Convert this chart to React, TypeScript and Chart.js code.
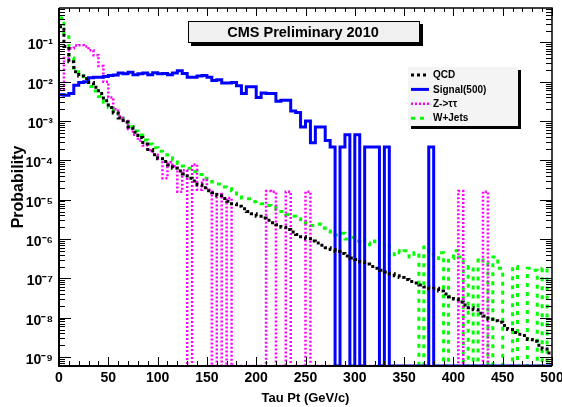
import React, { useEffect, useRef } from 'react';
import { Chart, registerables } from 'chart.js';

Chart.register(...registerables);

// ---- data: probability per 5 GeV bin of tau Pt (0..500 GeV, 100 bins); 0 = empty bin ----
const BIN_WIDTH = 5;
const X_MIN = 0;
const X_MAX = 500;
const Y_MIN = 5.9e-10;
const Y_MAX = 0.75;

const xTickValues = [0, 50, 100, 150, 200, 250, 300, 350, 400, 450, 500];
const yTickValues = [1e-9, 1e-8, 1e-7, 1e-6, 1e-5, 1e-4, 1e-3, 1e-2, 1e-1];

const seriesLabels = ['QCD', 'Signal(500)', 'Z->\u03c4\u03c4', 'W+Jets'];

const qcd = [
  2.5e-1, 7.9e-2, 3.2e-2, 1.8e-2, 1.4e-2, 1.2e-2, 9.5e-3, 7.2e-3, 5.0e-3, 3.3e-3,
  2.2e-3, 1.6e-3, 1.2e-3, 9.5e-4, 7.1e-4, 5.2e-4, 3.8e-4, 2.6e-4, 1.9e-4, 1.4e-4,
  1.1e-4, 9.3e-5, 7.6e-5, 6.3e-5, 5.4e-5, 4.5e-5, 3.5e-5, 3.0e-5, 2.4e-5, 2.0e-5,
  1.7e-5, 1.5e-5, 1.26e-5, 1.07e-5, 9.1e-6, 7.9e-6, 6.8e-6, 5.9e-6, 5.0e-6, 4.4e-6,
  3.8e-6, 3.4e-6, 3.0e-6, 2.6e-6, 2.3e-6, 2.0e-6, 1.74e-6, 1.5e-6, 1.3e-6, 1.15e-6,
  1.02e-6, 8.9e-7, 7.9e-7, 6.9e-7, 6.0e-7, 5.4e-7, 4.8e-7, 4.3e-7, 3.7e-7, 3.3e-7,
  3.0e-7, 2.6e-7, 2.3e-7, 2.0e-7, 1.8e-7, 1.6e-7, 1.45e-7, 1.3e-7, 1.17e-7, 1.05e-7,
  9.3e-8, 8.3e-8, 7.6e-8, 6.8e-8, 6.0e-8, 5.4e-8, 5.6e-8, 4.8e-8, 4.0e-8, 3.4e-8,
  3.0e-8, 2.5e-8, 2.1e-8, 1.8e-8, 1.6e-8, 1.3e-8, 1.1e-8, 9.1e-9, 8.3e-9, 7.6e-9,
  6.3e-9, 5.0e-9, 4.2e-9, 3.8e-9, 3.5e-9, 2.8e-9, 2.5e-9, 2.0e-9, 1.6e-9, 1.26e-9,
];

const signal500 = [
  4.7e-3, 4.5e-3, 5.0e-3, 8.1e-3, 9.5e-3, 1.0e-2, 1.26e-2, 1.3e-2, 1.3e-2, 1.35e-2,
  1.45e-2, 1.48e-2, 1.66e-2, 1.6e-2, 1.74e-2, 1.5e-2, 1.6e-2, 1.66e-2, 1.5e-2, 1.7e-2,
  1.6e-2, 1.62e-2, 1.5e-2, 1.66e-2, 1.9e-2, 1.62e-2, 1.3e-2, 1.3e-2, 1.4e-2, 1.45e-2,
  1.3e-2, 1.07e-2, 1.12e-2, 9.3e-3, 9.3e-3, 9.5e-3, 7.9e-3, 5.0e-3, 7.4e-3, 7.4e-3,
  4.0e-3, 5.2e-3, 5.0e-3, 5.0e-3, 3.2e-3, 3.4e-3, 3.4e-3, 1.8e-3, 1.66e-3, 7.1e-4,
  1.0e-3, 2.8e-4, 7.1e-4, 7.1e-4, 3.2e-4, 2.2e-4, 0, 2.2e-4, 4.5e-4, 0,
  4.5e-4, 0, 2.2e-4, 2.2e-4, 2.2e-4, 0, 2.2e-4, 0, 0, 0,
  0, 0, 0, 0, 0, 2.2e-4, 0, 0, 0, 0,
  0, 0, 0, 0, 0, 0, 0, 0, 0, 0,
  0, 0, 0, 0, 0, 0, 0, 0, 0, 0,
];

const zTauTau = [
  6.3e-3, 4.0e-2, 7.1e-2, 8.3e-2, 8.5e-2, 7.9e-2, 6.3e-2, 4.7e-2, 2.5e-2, 1.0e-2,
  4.0e-3, 2.0e-3, 1.3e-3, 1.0e-3, 6.3e-4, 4.5e-4, 3.2e-4, 2.4e-4, 1.8e-4, 1.4e-4,
  1.1e-4, 3.5e-5, 8.9e-5, 7.1e-5, 1.6e-5, 5.6e-5, 0, 7.9e-5, 1.8e-5, 3.2e-5,
  1.8e-5, 0, 1.4e-5, 0, 1.1e-5, 0, 0, 0, 0, 0,
  0, 0, 1.66e-5, 1.6e-5, 0, 0, 1.6e-5, 0, 0, 0,
  1.6e-5, 0, 0, 0, 0, 0, 0, 0, 0, 0,
  0, 0, 0, 0, 0, 0, 0, 0, 0, 0,
  0, 0, 0, 0, 0, 0, 0, 0, 0, 0,
  0, 1.66e-5, 0, 0, 0, 0, 1.6e-5, 0, 0, 0,
  0, 0, 0, 0, 0, 0, 0, 0, 0, 0,
];

const wJets = [
  4.2e-1, 1.4e-1, 4.0e-2, 2.2e-2, 1.4e-2, 1.0e-2, 7.6e-3, 5.8e-3, 4.2e-3, 3.0e-3,
  2.2e-3, 1.6e-3, 1.2e-3, 9.3e-4, 7.2e-4, 5.6e-4, 4.4e-4, 3.3e-4, 2.6e-4, 2.1e-4,
  1.7e-4, 1.4e-4, 1.17e-4, 1.0e-4, 8.3e-5, 7.2e-5, 6.3e-5, 5.2e-5, 4.4e-5, 3.5e-5,
  3.2e-5, 2.8e-5, 2.5e-5, 2.1e-5, 1.9e-5, 1.7e-5, 1.4e-5, 1.1e-5, 1.05e-5, 8.9e-6,
  8.9e-6, 7.9e-6, 7.1e-6, 6.3e-6, 5.6e-6, 5.0e-6, 4.2e-6, 3.8e-6, 3.3e-6, 2.8e-6,
  2.5e-6, 2.2e-6, 2.4e-6, 1.9e-6, 1.6e-6, 1.5e-6, 1.26e-6, 1.4e-6, 1.0e-6, 1.1e-6,
  8.9e-7, 1.0e-6, 7.9e-7, 7.1e-7, 8.9e-7, 6.3e-7, 7.6e-7, 3.5e-7, 5.0e-7, 4.5e-7,
  5.0e-7, 3.5e-7, 4.5e-7, 0, 6.3e-7, 4.0e-7, 3.2e-7, 4.5e-7, 0, 3.2e-7,
  5.0e-7, 3.5e-7, 0, 2.0e-7, 0, 3.2e-7, 2.5e-7, 0, 3.5e-7, 1.8e-7,
  0, 0, 2.0e-7, 0, 0, 1.8e-7, 1.6e-7, 0, 1.8e-7, 0,
];

// ---- styling ----
const FONT = "'Liberation Sans', Arial, Helvetica, sans-serif";
const SUP: Record<string, string> = {
  '-': '\u207b', '0': '\u2070', '1': '\u00b9', '2': '\u00b2', '3': '\u00b3', '4': '\u2074',
  '5': '\u2075', '6': '\u2076', '7': '\u2077', '8': '\u2078', '9': '\u2079',
};
const toSup = (s: string) => s.split('').map((c) => SUP[c] || c).join('');

function histPoints(vals: number[]) {
  const pts = vals.map((v, i) => ({ x: X_MIN + i * BIN_WIDTH, y: v > 0 ? v : Y_MIN }));
  const last = vals[vals.length - 1];
  pts.push({ x: X_MIN + vals.length * BIN_WIDTH, y: last > 0 ? last : Y_MIN });
  return pts;
}

const frameTicksPlugin = {
  id: 'frameTicks',
  afterDatasetsDraw(chart: any) {
    const { ctx, chartArea: a, scales } = chart;
    const xs = scales.x;
    const ys = scales.y;
    ctx.save();
    ctx.strokeStyle = '#000';
    ctx.lineWidth = 1;
    ctx.beginPath();
    for (let e = -10; e <= 0; e++) {
      for (let k = 1; k <= 9; k++) {
        const v = k * Math.pow(10, e);
        if (v < ys.min || v > ys.max) continue;
        const py = Math.round(ys.getPixelForValue(v)) + 0.5;
        const len = k === 1 ? 12 : 6;
        ctx.moveTo(a.left, py);
        ctx.lineTo(a.left + len, py);
        ctx.moveTo(a.right, py);
        ctx.lineTo(a.right - len, py);
      }
    }
    for (let v = X_MIN; v <= X_MAX; v += 10) {
      const px = Math.round(xs.getPixelForValue(v)) + 0.5;
      const len = v % 50 === 0 ? 9 : 5;
      ctx.moveTo(px, a.bottom);
      ctx.lineTo(px, a.bottom - len);
      ctx.moveTo(px, a.top);
      ctx.lineTo(px, a.top + (v % 50 === 0 ? 8 : 4));
    }
    ctx.stroke();
    // frame
    ctx.lineWidth = 2;
    ctx.beginPath();
    ctx.moveTo(a.left, a.top);
    ctx.lineTo(a.left, a.bottom);
    ctx.lineTo(a.right, a.bottom);
    ctx.stroke();
    ctx.lineWidth = 1.5;
    ctx.beginPath();
    ctx.moveTo(a.left, a.top);
    ctx.lineTo(a.right, a.top);
    ctx.lineTo(a.right, a.bottom);
    ctx.stroke();
    ctx.restore();
  },
};

const boxesPlugin = {
  id: 'boxes',
  afterDraw(chart: any) {
    const { ctx } = chart;
    ctx.save();
    // title box
    const tx = 188, ty = 21, tw = 232, th = 22;
    ctx.fillStyle = '#000';
    ctx.fillRect(tx + 3, ty + 3, tw, th);
    ctx.fillStyle = '#f0f0f0';
    ctx.fillRect(tx, ty, tw, th);
    ctx.strokeStyle = '#000';
    ctx.lineWidth = 1;
    ctx.strokeRect(tx + 0.5, ty + 0.5, tw - 1, th - 1);
    ctx.fillStyle = '#000';
    ctx.font = `bold 14.5px ${FONT}`;
    ctx.textAlign = 'center';
    ctx.textBaseline = 'middle';
    ctx.fillText('CMS Preliminary 2010', tx + tw / 2 - 1, ty + th / 2 + 1);

    // legend box
    const lx = 408, ly = 67, lw = 110, lh = 59;
    ctx.fillStyle = '#000';
    ctx.fillRect(lx + 3, ly + 3, lw, lh);
    ctx.fillStyle = '#f4f4f4';
    ctx.fillRect(lx, ly, lw, lh);
    const rowH = 14.4;
    chart.data.datasets.forEach((ds: any, i: number) => {
      const cy = ly + 8 + i * rowH;
      ctx.save();
      ctx.strokeStyle = ds.borderColor;
      ctx.lineWidth = ds.borderWidth;
      ctx.setLineDash(ds.borderDash || []);
      ctx.beginPath();
      ctx.moveTo(lx + 3, cy);
      ctx.lineTo(lx + 21, cy);
      ctx.stroke();
      ctx.restore();
      ctx.fillStyle = '#000';
      ctx.font = `bold 10px ${FONT}`;
      ctx.textAlign = 'left';
      ctx.textBaseline = 'middle';
      ctx.fillText(ds.label, lx + 25, cy + 0.5);
    });
    ctx.restore();
  },
};

export default function App() {
  const ref = useRef<HTMLCanvasElement>(null);

  useEffect(() => {
    if (!ref.current) return;
    const common = { pointRadius: 0, stepped: 'before' as const, fill: false, tension: 0 };
    const chart = new Chart(ref.current, {
      type: 'line',
      data: {
        datasets: [
          { ...common, label: seriesLabels[0], data: histPoints(qcd), borderColor: '#000000', borderWidth: 3, borderDash: [3, 3] },
          { ...common, label: seriesLabels[1], data: histPoints(signal500), borderColor: '#0000ff', borderWidth: 3 },
          { ...common, label: seriesLabels[2], data: histPoints(zTauTau), borderColor: '#ff00ff', borderWidth: 2.5, borderDash: [2, 2] },
          { ...common, label: seriesLabels[3], data: histPoints(wJets), borderColor: '#00ff00', borderWidth: 3, borderDash: [4, 5] },
        ],
      },
      options: {
        animation: false,
        responsive: false,
        maintainAspectRatio: false,
        devicePixelRatio: 1,
        layout: { padding: { top: 8, right: 10, left: 0, bottom: 0 } },
        plugins: { legend: { display: false }, tooltip: { enabled: false }, title: { display: false } },
        scales: {
          x: {
            type: 'linear',
            min: X_MIN,
            max: X_MAX,
            grid: { display: false, drawTicks: false },
            border: { display: false },
            afterBuildTicks: (s: any) => { s.ticks = xTickValues.map((v) => ({ value: v })); },
            afterFit: (s: any) => { s.height = 41; s.paddingLeft = 0; s.paddingRight = 0; },
            ticks: {
              autoSkip: false, maxRotation: 0, padding: 4, color: '#000',
              font: { family: FONT, size: 14, weight: 'bold' },
              callback: (v: any) => String(v),
            },
            title: {
              display: true, text: 'Tau Pt (GeV/c)', color: '#000',
              font: { family: FONT, size: 13, weight: 'bold' },
              padding: { top: 0, bottom: 1 },
            },
          },
          y: {
            type: 'logarithmic',
            min: Y_MIN,
            max: Y_MAX,
            grid: { display: false, drawTicks: false },
            border: { display: false },
            afterBuildTicks: (s: any) => { s.ticks = yTickValues.map((v) => ({ value: v })); },
            afterFit: (s: any) => { s.width = 59; s.paddingTop = 0; s.paddingBottom = 0; },
            ticks: {
              autoSkip: false, padding: 6, color: '#000', labelOffset: 3,
              font: { family: FONT, size: 14, weight: 'bold' },
              callback: (v: any) => '10' + toSup(String(Math.round(Math.log10(Number(v))))),
            },
            title: {
              display: true, text: 'Probability', color: '#000',
              font: { family: FONT, size: 16, weight: 'bold' },
              padding: { top: 9, bottom: 0 },
            },
          },
        },
      } as any,
      plugins: [frameTicksPlugin, boxesPlugin],
    });
    return () => chart.destroy();
  }, []);

  return (
    <div style={{ position: 'absolute', left: 0, top: 0, width: 562, height: 407, background: '#fff' }}>
      <canvas ref={ref} width={562} height={407} style={{ display: 'block', width: 562, height: 407 }} />
    </div>
  );
}
